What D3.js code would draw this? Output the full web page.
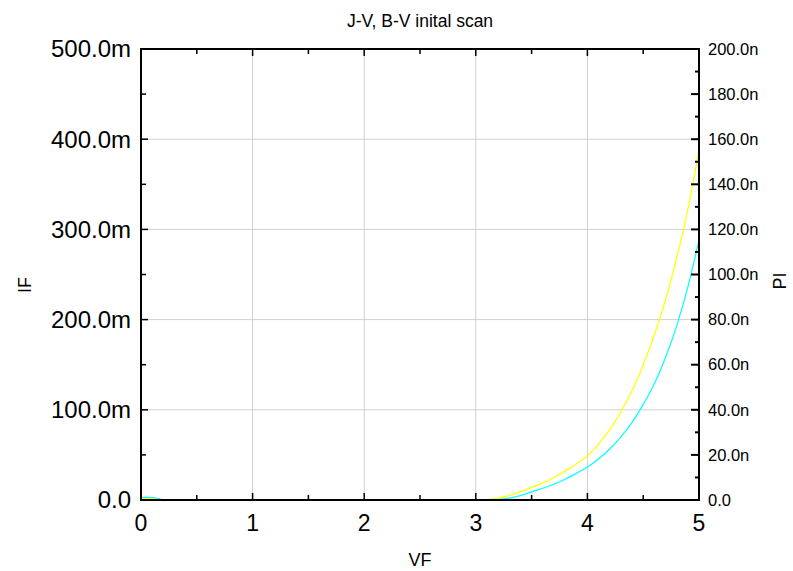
<!DOCTYPE html>
<html><head><meta charset="utf-8">
<script src="https://cdn.jsdelivr.net/npm/d3@7"></script>
<style>html,body{margin:0;padding:0;background:#fff}svg{display:block}</style>
</head><body>
<svg id="chart" width="793" height="571"></svg>
<script>
// ---- data ----
const vf = d3.range(51).map(i => +(i * 0.1).toFixed(1)); // 0.0 .. 5.0 step 0.1 (x categories)
const ifValues = [2, 1.5, 0.3,
  0,0,0,0,0,0,0,0,0,0, 0,0,0,0,0,0,0,0,0,0, 0,0,0,0,0,0,0,0,
  0.5, 2, 5, 9, 14, 19, 25, 32, 40, 49,
  62, 78, 98, 121, 150, 183, 222, 268, 322, 388]; // mA, left axis (yellow)
const piValues = [1.2, 1.1, 0.2,
  0,0,0,0,0,0,0,0,0,0, 0,0,0,0,0,0,0,0,0,0, 0,0,0,0,0,0,0,0,0,
  0.2, 0.8, 2, 3.6, 5.2, 7, 9.2, 11.8, 14.6,
  18.2, 22.6, 28, 34.4, 42.4, 51.6, 63.2, 77.2, 94.4, 115.2]; // nA, right axis (cyan)
const xTicks = [0, 1, 2, 3, 4, 5];
const xTickLabels = ["0", "1", "2", "3", "4", "5"];
const leftTicks = [0, 100, 200, 300, 400, 500];
const leftTickLabels = ["0.0", "100.0m", "200.0m", "300.0m", "400.0m", "500.0m"];
const rightTicks = [0, 20, 40, 60, 80, 100, 120, 140, 160, 180, 200];
const rightTickLabels = ["0.0", "20.0n", "40.0n", "60.0n", "80.0n", "100.0n", "120.0n", "140.0n", "160.0n", "180.0n", "200.0n"];
const title = "J-V, B-V inital scan";

// ---- layout ----
const L = 141, R = 699, T = 49, B = 500;
const svg = d3.select("#chart");
const font = "Liberation Sans, Arial, Helvetica, sans-serif";

const x = d3.scaleLinear().domain([0, 5]).range([L, R]);
const yL = d3.scaleLinear().domain([0, 500]).range([B, T]);
const yR = d3.scaleLinear().domain([0, 200]).range([B, T]);

// gridlines
const grid = svg.append("g").attr("stroke", "#d0d0d0").attr("stroke-width", 1);
xTicks.filter(v => v > 0 && v < 5).forEach(v => {
  grid.append("line").attr("x1", x(v)).attr("x2", x(v)).attr("y1", T).attr("y2", B);
});
leftTicks.filter(v => v > 0 && v < 500).forEach(v => {
  grid.append("line").attr("x1", L).attr("x2", R).attr("y1", yL(v)).attr("y2", yL(v));
});

// curves
const lineIF = d3.line().x((d, i) => x(vf[i])).y(d => yL(d)).curve(d3.curveMonotoneX);
const linePI = d3.line().x((d, i) => x(vf[i])).y(d => yR(d)).curve(d3.curveMonotoneX);
svg.append("path").datum(ifValues).attr("d", lineIF).attr("fill", "none").attr("stroke", "#ffff00").attr("stroke-width", 1.2);
svg.append("path").datum(piValues).attr("d", linePI).attr("fill", "none").attr("stroke", "#00ffff").attr("stroke-width", 1.2);

// axes (inward ticks)
const axes = svg.append("g").attr("stroke", "#000");
d3.range(0, 5.01, 0.5).forEach(v => {
  const len = Number.isInteger(v) ? 7 : 5;
  axes.append("line").attr("x1", x(v)).attr("x2", x(v)).attr("y1", B).attr("y2", B - len).attr("stroke-width", 1.5);
  axes.append("line").attr("x1", x(v)).attr("x2", x(v)).attr("y1", T).attr("y2", T + len).attr("stroke-width", 1.5);
});
d3.range(0, 501, 50).forEach(v => {
  const len = v % 100 === 0 ? 7 : 5;
  axes.append("line").attr("x1", L).attr("x2", L + len).attr("y1", yL(v)).attr("y2", yL(v)).attr("stroke-width", 1.5);
});
d3.range(0, 201, 10).forEach(v => {
  const len = v % 20 === 0 ? 8 : 4;
  axes.append("line").attr("x1", R).attr("x2", R - len).attr("y1", yR(v)).attr("y2", yR(v)).attr("stroke-width", 2);
});
// frame
svg.append("rect").attr("x", L).attr("y", T).attr("width", R - L).attr("height", B - T)
  .attr("fill", "none").attr("stroke", "#000").attr("stroke-width", 2);

// tick labels
const lbl = svg.append("g").attr("font-family", font).attr("fill", "#000");
xTicks.forEach((v, i) => {
  lbl.append("text").attr("x", x(v)).attr("y", 531).attr("text-anchor", "middle")
    .attr("font-size", 23).text(xTickLabels[i]);
});
leftTicks.forEach((v, i) => {
  lbl.append("text").attr("x", 131).attr("y", yL(v)).attr("dy", "0.35em").attr("text-anchor", "end")
    .attr("font-size", 24).text(leftTickLabels[i]);
});
rightTicks.forEach((v, i) => {
  lbl.append("text").attr("x", 708).attr("y", yR(v)).attr("dy", "0.35em").attr("text-anchor", "start")
    .attr("font-size", 16.5).text(rightTickLabels[i]);
});

// titles
lbl.append("text").attr("x", 420).attr("y", 27).attr("text-anchor", "middle").attr("font-size", 17.5).text(title);
lbl.append("text").attr("x", 420).attr("y", 566).attr("text-anchor", "middle").attr("font-size", 18).text("VF");
lbl.append("text").attr("transform", "translate(31,285) rotate(-90)").attr("text-anchor", "middle").attr("font-size", 18).text("IF");
lbl.append("text").attr("transform", "translate(786,281) rotate(-90)").attr("text-anchor", "middle").attr("font-size", 18).text("PI");
</script>
</body></html>
